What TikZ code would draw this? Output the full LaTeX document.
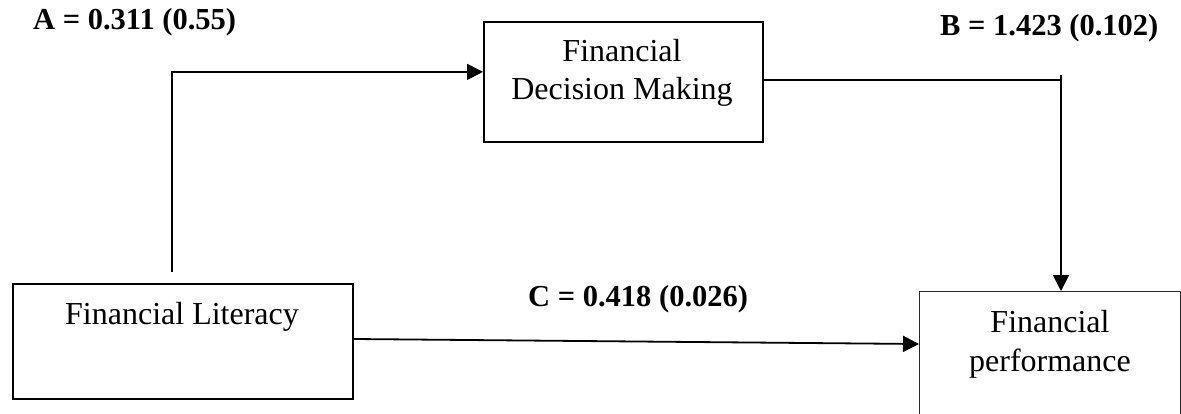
\documentclass[tikz,border=0pt]{standalone}
\usepackage{fontspec}
\setmainfont{Liberation Serif}
\usetikzlibrary{arrows.meta,calc}

\tikzset{
  boxline/.style={draw=black, line width=2pt, fill=none},
  thinbox/.style={draw=black!85, line width=1.3pt, fill=none},
  word/.style={inner sep=0pt, anchor=base, font=\fontsize{32}{38}\selectfont},
  coef/.style={inner sep=0pt, anchor=base west, font=\fontsize{30.5}{38}\selectfont\bfseries},
  link/.style={draw=black, line width=1.8pt},
  linkarrow/.style={link, -{Triangle[length=16pt,width=16pt]}},
}

\begin{document}
\begin{tikzpicture}[x=1pt, y=-1pt]
  \useasboundingbox (0,0) rectangle (1181,414);
  \clip (0,0) rectangle (1181,414);

  % boxes
  \node[boxline, minimum width=340pt, minimum height=115pt, anchor=north west] (lit) at (12,283) {};
  \node[boxline, minimum width=279pt, minimum height=120pt, anchor=north west] (dm) at (483,21) {};
  \node[thinbox, minimum width=261pt, minimum height=150pt, anchor=north west] (perf) at (919,291) {};

  % box texts
  \node[word] (littext) at (182,324) {Financial Literacy};
  \node[word] (dmtext1) at (622,62) {Financial};
  \node[word] (dmtext2) at (622,100) {Decision Making};
  \node[word] (perftext1) at (1050,332) {Financial};
  \node[word] (perftext2) at (1050,371) {performance};

  % path coefficients
  \node[coef] (alabel) at (33,30) {A = 0.311 (0.55)};
  \node[coef] (blabel) at (940,36) {B = 1.423 (0.102)};
  \node[coef] (clabel) at (528,306) {C = 0.418 (0.026)};

  % connector ends
  \coordinate (aStart) at (172,272);
  \coordinate (aEnd) at ($(dm.north west)!0.417!(dm.south west)$);
  \coordinate (bStart) at ($(dm.north east)!0.483!(dm.south east)$);
  \coordinate (bCorner) at (1061,75);
  \coordinate (cEnd) at ($(perf.north west)+(0,53)$);
  \coordinate (cStart) at ($(lit.north east)+(0,56)$);

  % A: literacy -> decision making
  \draw[linkarrow] (aStart) |- (aEnd);
  % B: decision making -> performance
  \draw[link] (bStart) -- (bCorner |- bStart);
  \draw[linkarrow] (bCorner) -- (bCorner |- perf.north);
  % C: literacy -> performance
  \draw[linkarrow] (cStart) -- (cEnd);
\end{tikzpicture}
\end{document}
